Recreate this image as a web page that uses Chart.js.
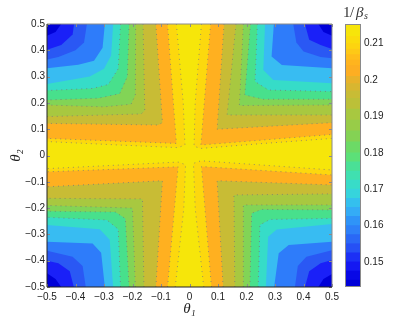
<!DOCTYPE html>
<html>
<head>
<meta charset="UTF-8">
<title>contour</title>
<script src="https://cdn.jsdelivr.net/npm/chart.js@4"></script>
<style>
  html, body { margin: 0; padding: 0; background: #fff; }
  #main { position: absolute; left: 0; top: 0; }
  #bar { position: absolute; left: 340px; top: 0; }
</style>
</head>
<body>
<canvas id="main" width="340" height="323"></canvas>
<canvas id="bar" width="75" height="323"></canvas>
<script>
// band colours, corner outwards to the yellow cross
const bandColors = ['#0000d8', '#1a20f8', '#2a58f4', '#2e7cfa', '#38bcf2', '#36dcc8', '#48e08c', '#82d456', '#a8c840', '#c8bc35', '#ffb020', '#fcd80e'];
const crossColor = '#f6e60a';

// contour lines, [theta1, theta2], one list per corner
const contoursTL = [
  [[-.45,.5],[-.47,.47],[-.5,.455]],
  [[-.405,.5],[-.41,.46],[-.45,.42],[-.5,.402]],
  [[-.36,.5],[-.37,.43],[-.4,.4],[-.46,.375],[-.5,.365]],
  [[-.297,.5],[-.305,.41],[-.335,.36],[-.39,.345],[-.5,.332]],
  [[-.268,.5],[-.275,.38],[-.3,.33],[-.35,.3],[-.5,.272]],
  [[-.242,.5],[-.25,.33],[-.285,.27],[-.34,.255],[-.5,.247]],
  [[-.212,.5],[-.218,.3],[-.245,.235],[-.32,.218],[-.5,.211]],
  [[-.189,.5],[-.19,.23],[-.205,.195],[-.3,.185],[-.5,.192]],
  [[-.163,.5],[-.157,.17],[-.17,.158],[-.5,.148]],
  [[-.118,.5],[-.095,.125],[-.11,.116],[-.5,.122]],
  [[-.077,.5],[-.046,.046],[-.5,.065]],
  [[-.046,.5],[-.022,.2],[-.016,.04],[-.04,.03],[-.25,.04],[-.5,.053]]
];
const contoursTR = [
  [[.452,.5],[.47,.47],[.5,.455]],
  [[.405,.5],[.42,.44],[.46,.42],[.5,.405]],
  [[.364,.5],[.375,.43],[.4,.395],[.46,.375],[.5,.37]],
  [[.296,.5],[.288,.376],[.324,.344],[.5,.332]],
  [[.265,.5],[.259,.325],[.294,.287],[.5,.275]],
  [[.238,.5],[.23,.281],[.277,.249],[.5,.243]],
  [[.214,.5],[.194,.23],[.259,.214],[.5,.214]],
  [[.189,.5],[.175,.19],[.5,.192]],
  [[.163,.5],[.132,.154],[.5,.154]],
  [[.121,.5],[.097,.1],[.5,.125]],
  [[.074,.5],[.04,.04],[.5,.08]],
  [[.042,.5],[.02,.2],[.016,.035],[.04,.027],[.25,.045],[.5,.065]]
];
const contoursBL = [
  [[-.45,-.5],[-.47,-.47],[-.5,-.448]],
  [[-.406,-.5],[-.42,-.44],[-.46,-.41],[-.5,-.4]],
  [[-.364,-.5],[-.375,-.42],[-.41,-.385],[-.5,-.362]],
  [[-.297,-.5],[-.31,-.37],[-.34,-.335],[-.5,-.328]],
  [[-.268,-.5],[-.28,-.32],[-.315,-.28],[-.5,-.264]],
  [[-.242,-.5],[-.25,-.28],[-.29,-.245],[-.5,-.235]],
  [[-.212,-.5],[-.225,-.24],[-.26,-.215],[-.5,-.212]],
  [[-.19,-.5],[-.2,-.2],[-.5,-.19]],
  [[-.16,-.5],[-.165,-.165],[-.5,-.163]],
  [[-.118,-.5],[-.095,-.096],[-.5,-.119]],
  [[-.077,-.5],[-.04,-.043],[-.5,-.062]],
  [[-.05,-.5],[-.02,-.2],[-.014,-.035],[-.04,-.025],[-.5,-.05]]
];
const contoursBR = [
  [[.452,-.5],[.47,-.47],[.5,-.451]],
  [[.405,-.5],[.42,-.44],[.46,-.41],[.5,-.397]],
  [[.37,-.5],[.38,-.42],[.41,-.385],[.5,-.36]],
  [[.297,-.5],[.313,-.372],[.348,-.34],[.5,-.328]],
  [[.268,-.5],[.276,-.309],[.306,-.281],[.5,-.26]],
  [[.241,-.5],[.247,-.264],[.282,-.243],[.5,-.239]],
  [[.212,-.5],[.218,-.22],[.253,-.205],[.5,-.207]],
  [[.189,-.5],[.189,-.188],[.5,-.188]],
  [[.159,-.5],[.156,-.15],[.5,-.146]],
  [[.118,-.5],[.097,-.096],[.5,-.112]],
  [[.077,-.5],[.042,-.042],[.5,-.074]],
  [[.05,-.5],[.02,-.2],[.014,-.03],[.04,-.02],[.5,-.055]]
];
const corners = [[-.5,.5],[.5,.5],[-.5,-.5],[.5,-.5]];

const thetaTicks = [-.5,-.4,-.3,-.2,-.1,0,.1,.2,.3,.4,.5];
const thetaLabels = ['\u22120.5','\u22120.4','\u22120.3','\u22120.2','\u22120.1','0','0.1','0.2','0.3','0.4','0.5'];

// colour bar
const barMin = 0.1431;
const barTops = [.2154,.2120,.2100,.2085,.2070,.2055,.2040,.2010,.1990,.1970,.1950,.1920,.1890,.1860,.1830,.1800,.1775,.1750,.1725,.1700,.1675,.1650,.1625,.1600,.1575,.1550,.1525,.1500,.1475,.1450];
const barColors = ['#f7e50a','#fbdc0c','#fdd40f','#fec916','#ffbd1a','#ffb41e','#fdae22','#e8b22a','#d8b630','#c8bc35','#bcc038','#a8c840','#98cc48','#84d254','#6cda66','#5ce078','#4ae096','#40e0b0','#38dcc8','#36d4dc','#34c0ee','#34acf6','#2f94f8','#2e80f8','#2a68f6','#2650f5','#1c30f5','#1418f2','#0808e6','#0000d8'];
const barTicks = [.15,.16,.17,.18,.19,.2,.21];
const barLabels = ['0.15','0.16','0.17','0.18','0.19','0.2','0.21'];

const contourSets = [contoursTL, contoursTR, contoursBL, contoursBR];
const dotted = [];
const fills = [];
// last dataset paints first, so the biggest polygons go to the end of the list
bandColors.forEach((color, k) => {
  contourSets.forEach((set, q) => {
    fills.push({
      data: [...set[k], corners[q]].map(p => ({ x: p[0], y: p[1] })),
      showLine: true, fill: 'shape', backgroundColor: color, borderWidth: 0, pointRadius: 0
    });
    if (k >= 5) {
      dotted.push({
        data: set[k].map(p => ({ x: p[0], y: p[1] })),
        showLine: true, fill: false, borderColor: 'rgba(120,120,120,0.75)', borderWidth: 1,
        borderDash: [1, 4], pointRadius: 0
      });
    }
  });
});

const tickFont = { family: 'Liberation Sans', size: 10 };
const labelFont = { family: 'Liberation Serif', size: 15, style: 'italic' };

const framePlugin = {
  id: 'frame',
  beforeDatasetsDraw(chart) {
    const { ctx, chartArea: a } = chart;
    ctx.fillStyle = crossColor;
    ctx.fillRect(a.left, a.top, a.width, a.height);
  },
  afterDraw(chart) {
    const { ctx, chartArea: a, scales } = chart;
    ctx.save();
    ctx.lineWidth = 1;
    ctx.strokeStyle = '#8a8a8a';
    ctx.beginPath();
    for (const v of thetaTicks) {
      const x = Math.round(scales.x.getPixelForValue(v)) + .5;
      const y = Math.round(scales.y.getPixelForValue(v)) + .5;
      ctx.moveTo(x, a.top); ctx.lineTo(x, a.top + 3);
      ctx.moveTo(x, a.bottom); ctx.lineTo(x, a.bottom - 3);
      ctx.moveTo(a.left, y); ctx.lineTo(a.left + 3, y);
      ctx.moveTo(a.right, y); ctx.lineTo(a.right - 3, y);
    }
    ctx.moveTo(a.left, a.top); ctx.lineTo(a.right, a.top); ctx.lineTo(a.right, a.bottom);
    ctx.stroke();
    ctx.strokeStyle = '#222';
    ctx.beginPath();
    ctx.moveTo(a.left, a.top); ctx.lineTo(a.left, a.bottom); ctx.lineTo(a.right, a.bottom);
    ctx.stroke();
    ctx.restore();
  }
};

new Chart(document.getElementById('main'), {
  type: 'scatter',
  data: { datasets: [...dotted, ...fills] },
  options: {
    responsive: false,
    animation: false,
    layout: { padding: { top: 24, right: 8 } },
    plugins: { legend: { display: false }, tooltip: { enabled: false } },
    scales: {
      x: {
        type: 'linear', min: -.5, max: .5,
        afterFit: s => { s.height = 36; s.paddingLeft = 0; s.paddingRight = 0; },
        afterBuildTicks: s => { s.ticks = thetaTicks.map(value => ({ value })); },
        grid: { display: false, drawTicks: false }, border: { display: false },
        ticks: { font: tickFont, color: '#222', padding: 4, maxRotation: 0, autoSkip: false,
          callback: (v, i) => thetaLabels[i] },
        title: { display: true, text: '\u03b8\u2081', font: labelFont, color: '#222', padding: { top: 0, bottom: 5 } }
      },
      y: {
        type: 'linear', min: -.5, max: .5,
        afterFit: s => { s.width = 47; s.paddingTop = 0; s.paddingBottom = 0; },
        afterBuildTicks: s => { s.ticks = thetaTicks.map(value => ({ value })); },
        grid: { display: false, drawTicks: false }, border: { display: false },
        ticks: { font: tickFont, color: '#222', padding: 2, autoSkip: false,
          callback: (v, i) => thetaLabels[i] },
        title: { display: true, text: '\u03b8\u2082', font: labelFont, color: '#222', padding: { top: 7, bottom: 0 } }
      }
    }
  },
  plugins: [framePlugin]
});

const barFrame = {
  id: 'barFrame',
  afterDraw(chart) {
    const { ctx, chartArea: a } = chart;
    ctx.save();
    ctx.strokeStyle = '#8a8a8a';
    ctx.strokeRect(a.left + .5, a.top + .5, a.width - 1, a.height - 1);
    // colour bar heading, upright digit and italic beta with a small subscript
    ctx.fillStyle = '#333';
    ctx.textBaseline = 'alphabetic';
    ctx.font = '15px "Liberation Serif"';
    ctx.fillText('1', 3, 17);
    ctx.fillText('/', 10, 17);
    ctx.font = 'italic 15px "Liberation Serif"';
    ctx.fillText('\u03b2', 16, 17);
    ctx.font = 'italic 10px "Liberation Serif"';
    ctx.fillText('s', 24, 19);
    ctx.restore();
  }
};

new Chart(document.getElementById('bar'), {
  type: 'bar',
  data: {
    labels: ['1/\u03b2s'],
    // tallest bar first in paint order, each later one overlaps it
    datasets: barTops.map((top, i) => ({
      data: [[barMin, top]], backgroundColor: barColors[i], borderWidth: 0,
      grouped: false, barPercentage: 1, categoryPercentage: 1, order: barTops.length - i
    }))
  },
  options: {
    responsive: false,
    animation: false,
    layout: { padding: { left: 5, bottom: 36 } },
    plugins: { legend: { display: false }, tooltip: { enabled: false } },
    scales: {
      x: {
        position: 'top',
        afterFit: s => { s.height = 24; },
        grid: { display: false }, border: { display: false },
        ticks: { display: false }
      },
      y: {
        position: 'right', min: barMin, max: .2154,
        afterFit: s => { s.width = 54; s.paddingTop = 0; s.paddingBottom = 0; },
        afterBuildTicks: s => { s.ticks = barTicks.map(value => ({ value })); },
        grid: { display: false, drawTicks: false }, border: { display: false },
        ticks: { font: tickFont, color: '#222', padding: 3, autoSkip: false,
          callback: (v, i) => barLabels[i] }
      }
    }
  },
  plugins: [barFrame]
});
</script>
</body>
</html>
